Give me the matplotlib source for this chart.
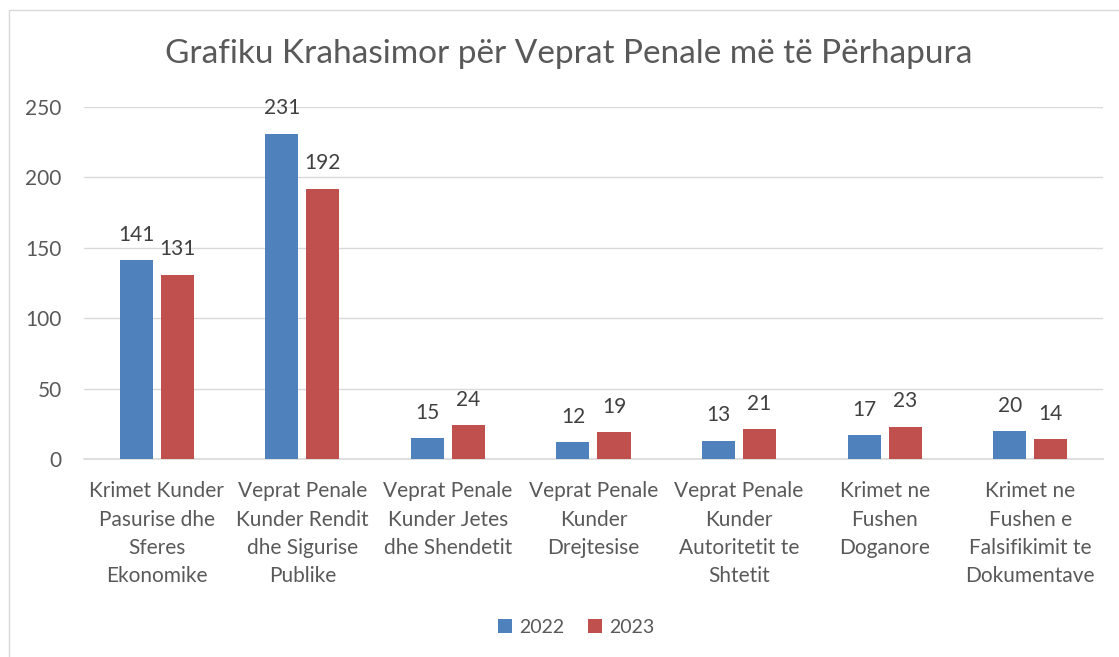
import numpy as np
import matplotlib.pyplot as plt
from matplotlib.patches import Rectangle

categories = [
    "Krimet Kunder\nPasurise dhe\nSferes\nEkonomike",
    "Veprat Penale\nKunder Rendit\ndhe Sigurise\nPublike",
    "Veprat Penale\nKunder Jetes\ndhe Shendetit",
    "Veprat Penale\nKunder\nDrejtesise",
    "Veprat Penale\nKunder\nAutoritetit te\nShtetit",
    "Krimet ne\nFushen\nDoganore",
    "Krimet ne\nFushen e\nFalsifikimit te\nDokumentave",
]
values_2022 = [141, 231, 15, 12, 13, 17, 20]
values_2023 = [131, 192, 24, 19, 21, 23, 14]
series_labels = ["2022", "2023"]

text_color = "#595959"
plt.rcParams["font.family"] = ["Lato", "DejaVu Sans"]

fig = plt.figure(figsize=(11.19, 6.57), dpi=100)
fig.patches.append(Rectangle((9 / 1119, -0.1), 1.2, 1 - 10 / 657 + 0.1,
                             transform=fig.transFigure, fill=False,
                             edgecolor="#D9D9D9", linewidth=1))

ax = fig.add_axes([0.075, 0.3014, 0.9107, 0.5357])
x = np.arange(len(categories))
w = 0.227
off = 0.141
b1 = ax.bar(x - off, values_2022, w, color="#4F81BD", label=series_labels[0], zorder=3)
b2 = ax.bar(x + off, values_2023, w, color="#C0504D", label=series_labels[1], zorder=3)
for bars in (b1, b2):
    ax.bar_label(bars, padding=11, fontsize=15, color="#404040")

ax.set_xlim(-0.5, len(categories) - 0.5)
ax.set_ylim(0, 250)
ax.set_yticks(range(0, 251, 50))
ax.yaxis.grid(True, color="#D9D9D9", linewidth=1, zorder=0)
for s in ["top", "right", "left"]:
    ax.spines[s].set_visible(False)
ax.spines["bottom"].set_color("#D9D9D9")
ax.spines["bottom"].set_linewidth(1.2)
ax.set_xticks(x)
ax.set_xticklabels(categories, fontsize=15, color=text_color, linespacing=1.52)
ax.tick_params(axis="x", length=0, pad=16)
ax.tick_params(axis="y", length=0, pad=16, labelsize=15, labelcolor=text_color)

fig.text(0.508, 0.918, "Grafiku Krahasimor për Veprat Penale më të Përhapura",
         ha="center", va="center", fontsize=24, color=text_color)
fig.legend(loc="center", bbox_to_anchor=(0.515, 0.045), ncol=2, frameon=False,
           fontsize=14, labelcolor=text_color, handlelength=0.7, handleheight=0.7,
           handletextpad=0.4, columnspacing=1.2)

fig.savefig("out.png", dpi=100)
